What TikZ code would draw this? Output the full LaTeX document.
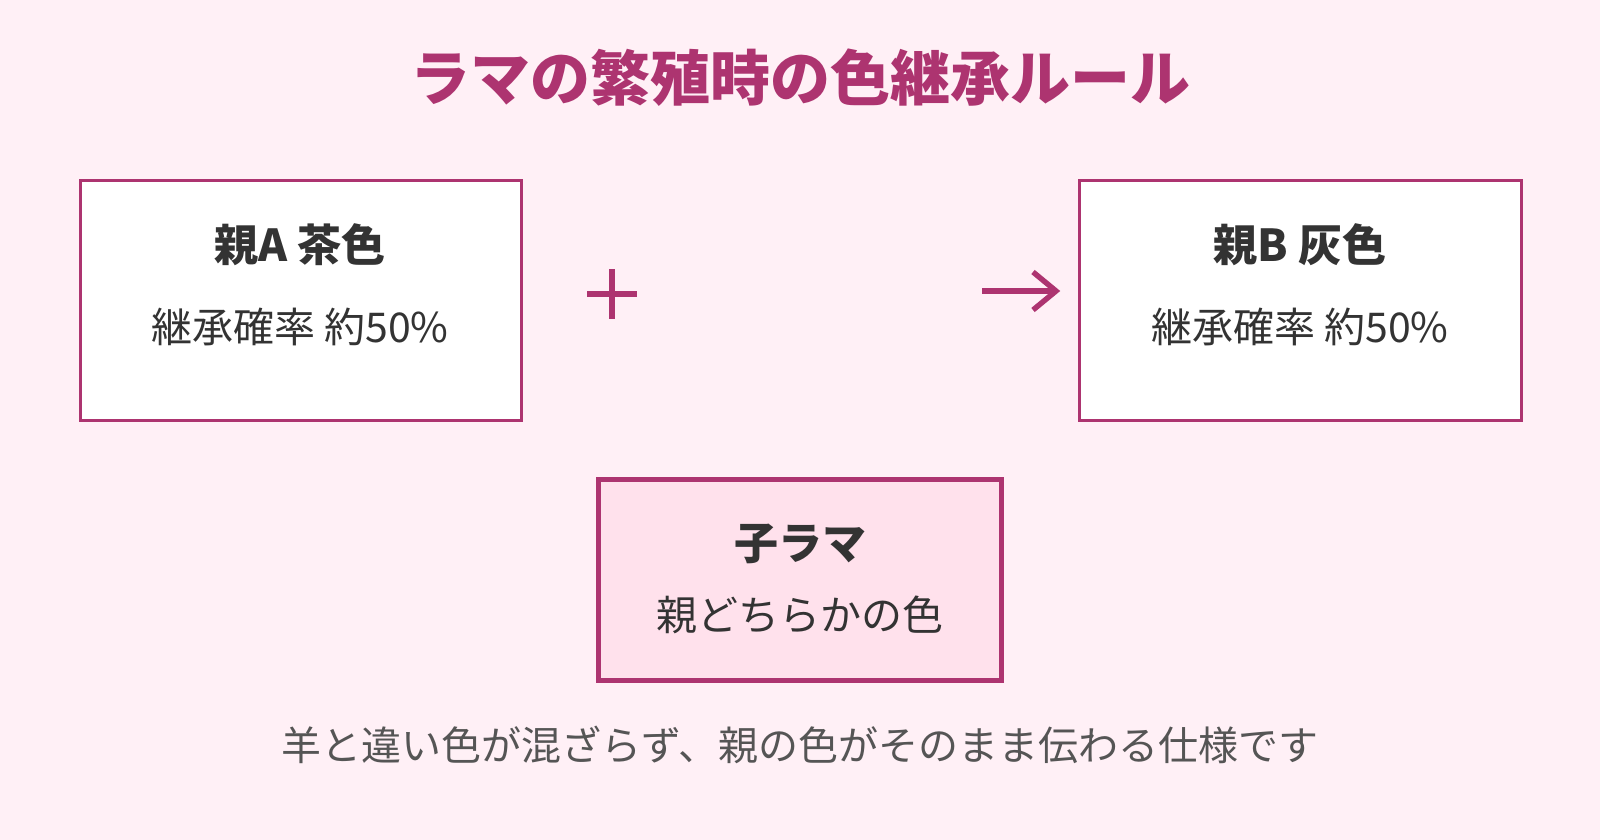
\documentclass[tikz,border=0pt]{standalone}
\usepackage{fontspec}
\setmainfont{Noto Sans CJK JP}
\usetikzlibrary{arrows.meta}
\definecolor{bgc}{HTML}{FFF0F6}
\definecolor{boxfill}{HTML}{FFE1EC}
\definecolor{accent}{HTML}{AD3470}
\definecolor{txt}{HTML}{333333}
\definecolor{foot}{HTML}{555555}
\tikzset{
  parentbox/.style={draw=accent, line width=1.5pt, fill=white},
  childbox/.style={draw=accent, line width=2.5pt, fill=boxfill},
  heading/.style={text=txt, font=\fontsize{22pt}{26pt}\selectfont\bfseries, inner sep=0pt},
  subtext/.style={text=txt, font=\fontsize{20.5pt}{24pt}\selectfont, inner sep=0pt},
  symline/.style={draw=accent, line width=2.7pt},
}
\begin{document}
\begin{tikzpicture}[x=0.5pt,y=-0.5pt]
\fill[bgc] (0,0) rectangle (1600,840);
\useasboundingbox (0,0) rectangle (1600,840);
% title
\node[text=accent, font=\fontsize{30pt}{36pt}\selectfont\bfseries, inner sep=0pt] (title) at (800,78) {ラマの繁殖時の色継承ルール};
% parent A
\draw[parentbox] (80,180) rectangle (521,420);
\node[heading] (hA) at (300,245) {親A 茶色};
\node[subtext] (sA) at (300,327) {継承確率 約50\%};
% parent B
\draw[parentbox] (1079,180) rectangle (1521,420);
\node[heading] (hB) at (1300,245) {親B 灰色};
\node[subtext] (sB) at (1300,327) {継承確率 約50\%};
% plus
\coordinate (pl) at (587,294);
\coordinate (pr) at (637,294);
\coordinate (pt) at (612,269);
\coordinate (pb) at (612,319);
\draw[symline] (pl) -- (pr);
\draw[symline] (pt) -- (pb);
% arrow
\coordinate (a1) at (982,291);
\coordinate (a2) at (1056,291);
\coordinate (au) at (1033,272);
\coordinate (ad) at (1033,310);
\draw[symline] (a1) -- (a2);
\draw[symline, line join=miter] (au) -- (a2) -- (ad);
% child
\draw[childbox] (598,479) rectangle (1001,680);
\node[heading] (hC) at (800,544) {子ラマ};
\node[subtext] (sC) at (800,615) {親どちらかの色};
% footer
\node[text=foot, font=\fontsize{20pt}{24pt}\selectfont, inner sep=0pt] (ft) at (800,745) {羊と違い色が混ざらず、親の色がそのまま伝わる仕様です};
\end{tikzpicture}
\end{document}
